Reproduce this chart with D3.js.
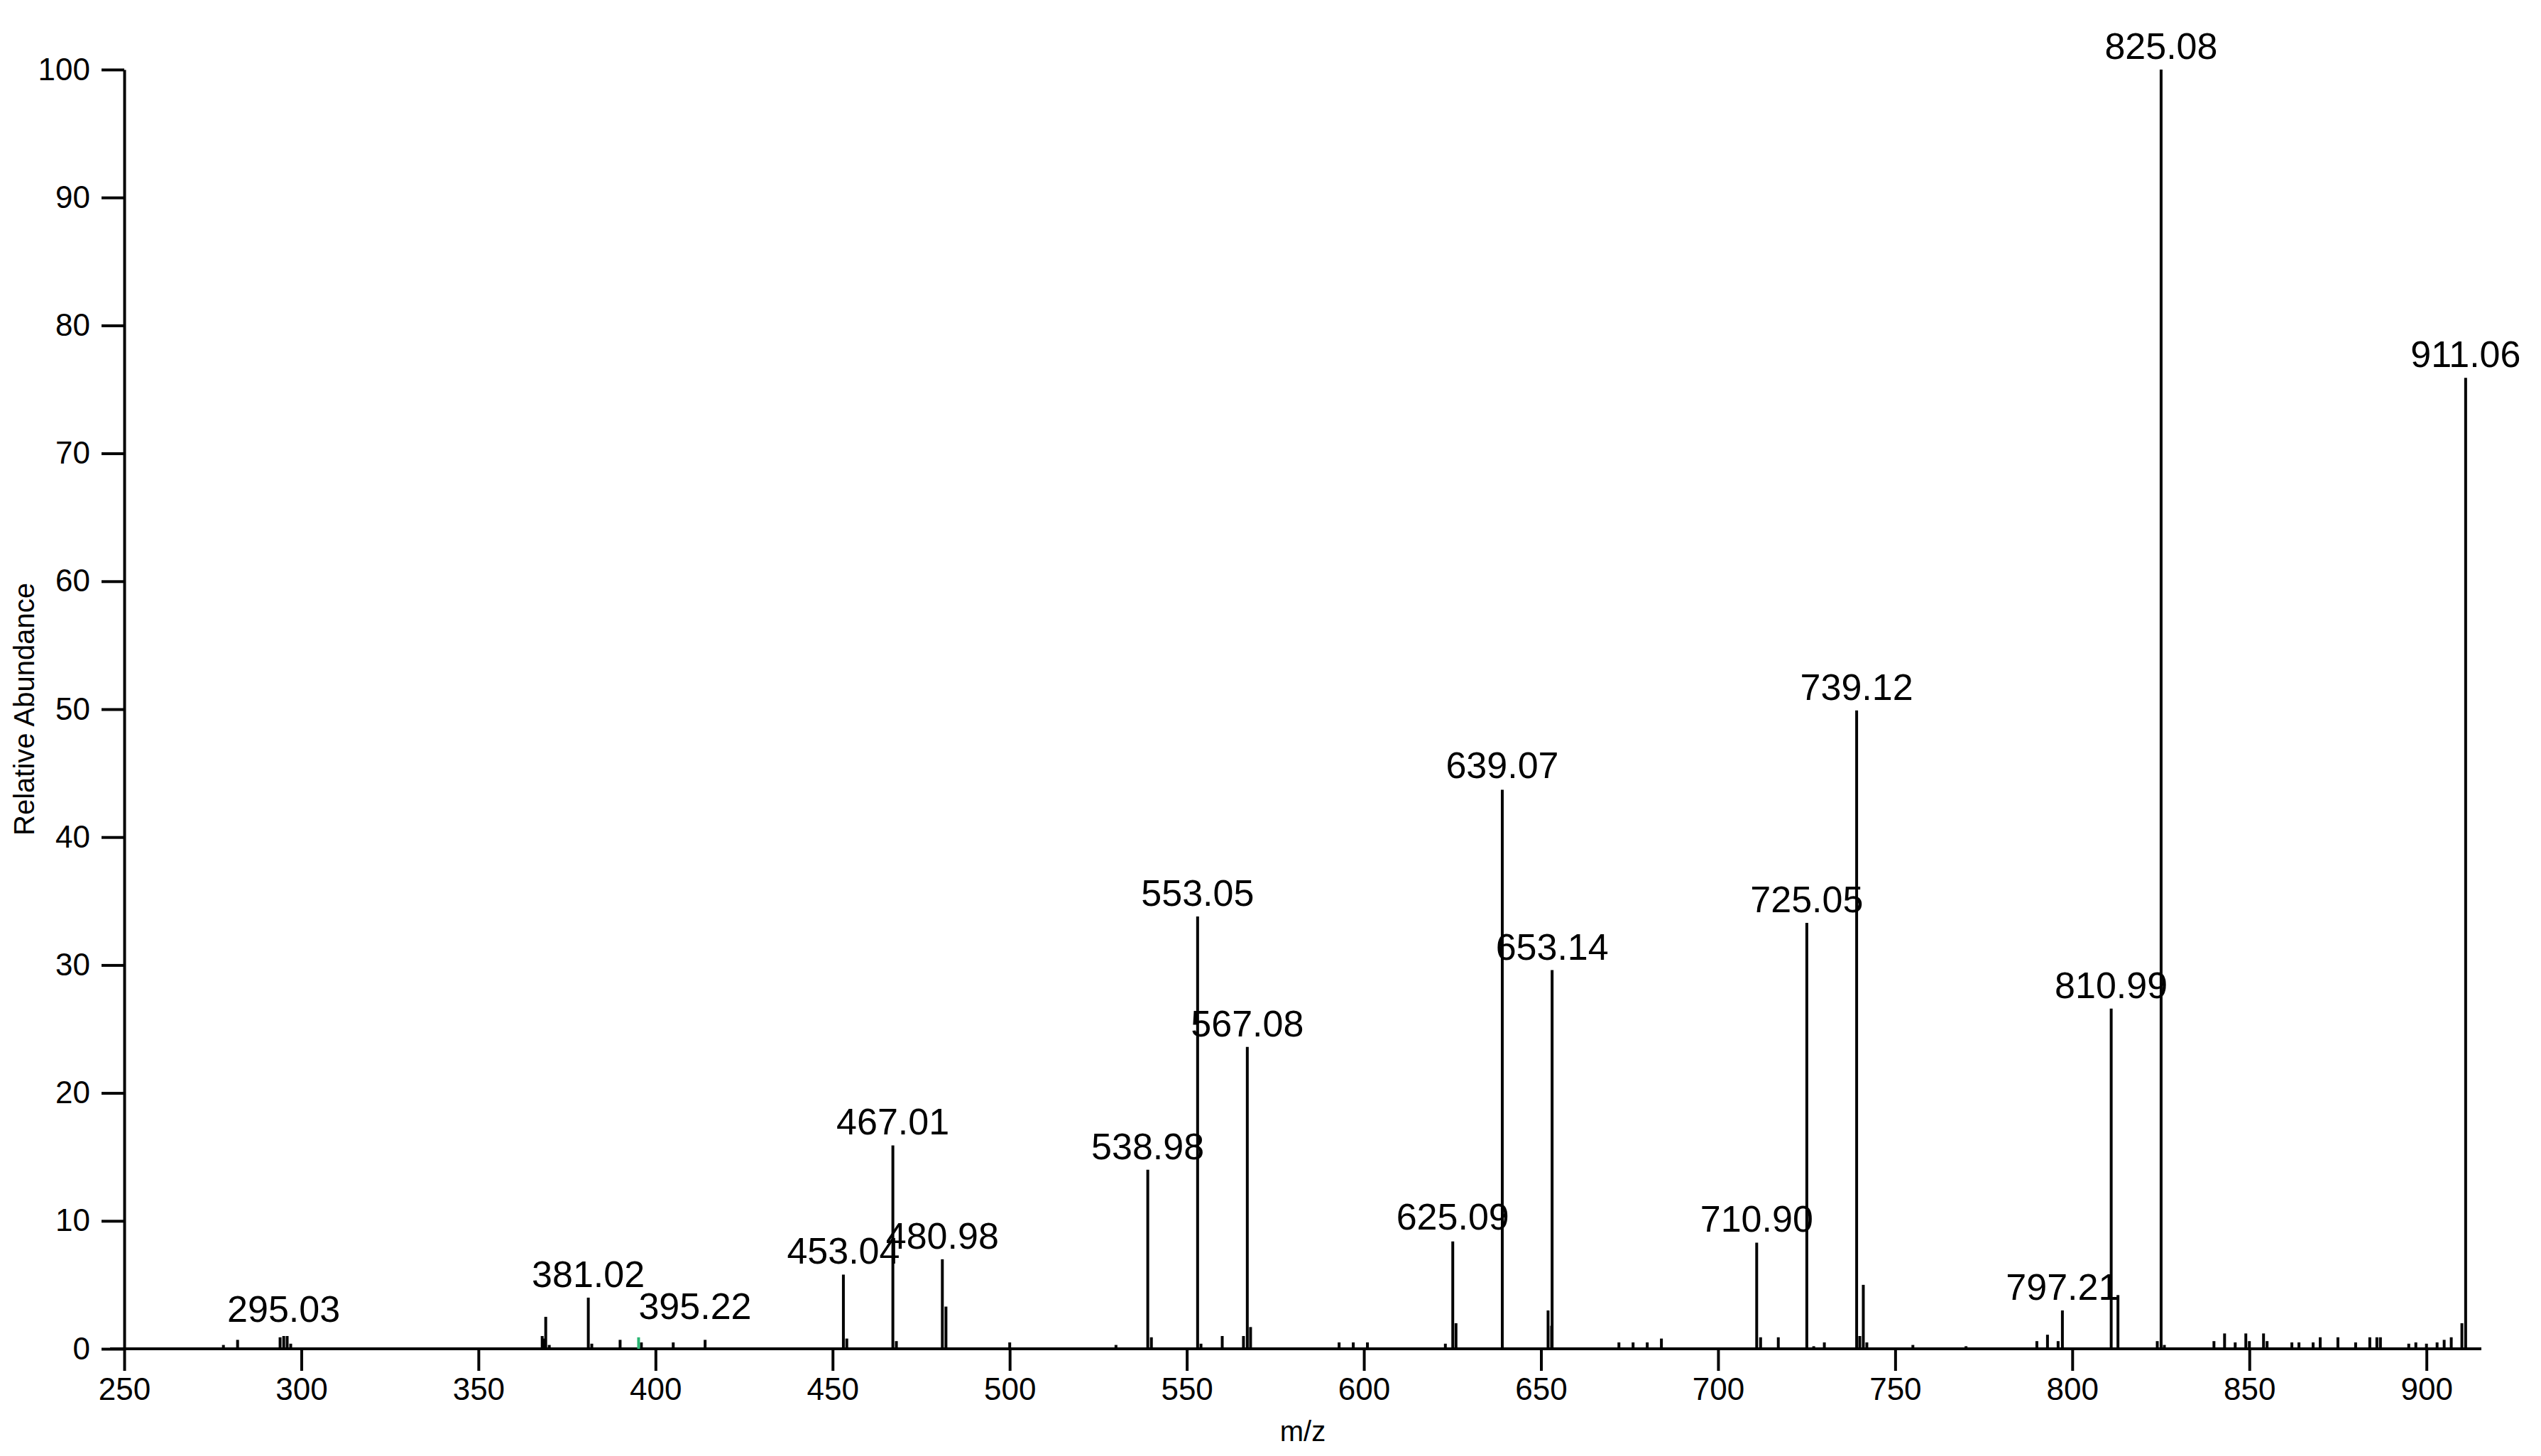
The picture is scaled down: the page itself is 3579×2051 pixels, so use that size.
<!DOCTYPE html>
<html>
<head>
<meta charset="utf-8">
<script src="https://cdn.jsdelivr.net/npm/d3@7"></script>
<style>
  body { margin: 0; background: #fff; }
  text { font-family: "Liberation Sans", Arial, sans-serif; }
</style>
</head>
<body>
<div id="chart"></div>
<script>
// labelled peaks
const peakMz = [295.03, 381.02, 395.22, 453.04, 467.01, 480.98, 538.98, 553.05, 567.08, 625.09,
                639.07, 653.14, 710.90, 725.05, 739.12, 797.21, 810.99, 825.08, 911.06];
const peakAbund = [1.0, 4.0, 0.9, 5.8, 15.9, 7.0, 14.0, 33.8, 23.6, 8.4,
                   43.7, 29.6, 8.3, 33.3, 49.9, 3.0, 26.6, 100, 75.9];
const peakLabelAbund = [1.8, 4.5, 2.0, 6.3, 16.4, 7.5, 14.5, 34.3, 24.1, 9.0,
                        44.3, 30.1, 8.8, 33.8, 50.4, 3.5, 27.1, 100.5, 76.4];

// unlabelled minor peaks
const minorMz = [278, 282, 294, 296, 297, 368, 368.5, 369, 370, 382, 390, 396, 405, 414, 454, 468,
                 482, 500, 530, 540, 554, 560, 566, 568, 593, 597, 601, 623, 626, 652, 653, 672,
                 676, 680, 684, 712, 717, 727, 730, 740, 741, 742, 755, 770, 790, 793, 796, 812.9,
                 824, 826, 840, 843, 846, 849, 850, 854, 855, 862, 864, 868, 870, 875, 880, 884,
                 886, 887, 895, 897, 900, 903, 905, 907, 910];
const minorAbund = [0.3, 0.7, 0.9, 1.0, 0.4, 1.0, 0.8, 2.5, 0.3, 0.4, 0.7, 0.5, 0.5, 0.7, 0.8, 0.6,
                    3.3, 0.5, 0.3, 0.9, 0.4, 1.0, 1.0, 1.7, 0.5, 0.5, 0.5, 0.4, 2.0, 3.0, 1.8, 0.5,
                    0.5, 0.5, 0.8, 0.9, 0.9, 0.2, 0.5, 1.0, 5.0, 0.5, 0.3, 0.2, 0.6, 1.1, 0.6, 4.2,
                    0.6, 0.3, 0.6, 1.2, 0.5, 1.2, 0.6, 1.2, 0.6, 0.5, 0.5, 0.5, 0.9, 0.9, 0.5, 0.9,
                    0.9, 0.9, 0.4, 0.5, 0.4, 0.5, 0.7, 0.9, 2.0];

const xMajor = [250, 300, 350, 400, 450, 500, 550, 600, 650, 700, 750, 800, 850, 900];
const yMajor = [0, 10, 20, 30, 40, 50, 60, 70, 80, 90, 100];

const W = 3579, H = 2051;
const x = d3.scaleLinear().domain([250, 915.5]).range([175, 3495]);
const y = d3.scaleLinear().domain([0, 100]).range([1900, 98]);

const svg = d3.select("#chart").append("svg").attr("width", W).attr("height", H);

// x axis
const xMinor = d3.range(250, 916, 10).filter(v => v % 50 !== 0);
const gx = svg.append("g").attr("transform", `translate(0,${y(0)})`);
gx.call(d3.axisBottom(x).tickValues(xMinor).tickSize(24).tickFormat(""));
gx.call(d3.axisBottom(x).tickValues(xMajor).tickSize(31).tickSizeOuter(0).tickPadding(10).tickFormat(d3.format("d")));
gx.selectAll("path, line").attr("stroke", "#000").attr("stroke-width", 4);
gx.select(".domain").attr("d", `M${x.range()[0] - 20},0H${x.range()[1]}`);
gx.selectAll("text").attr("font-size", 44).attr("fill", "#000");

// y axis
const gy = svg.append("g").attr("transform", `translate(${x.range()[0]},0)`);
gy.call(d3.axisLeft(y).tickValues(d3.range(0, 101, 1).filter(v => v % 5 !== 0)).tickSize(20).tickFormat(""));
gy.call(d3.axisLeft(y).tickValues(d3.range(5, 100, 10)).tickSize(26).tickFormat(""));
gy.call(d3.axisLeft(y).tickValues(yMajor).tickSize(32).tickSizeOuter(0).tickPadding(16).tickFormat(d3.format("d")));
gy.selectAll("path, line").attr("stroke", "#000").attr("stroke-width", 4);
gy.selectAll("text").attr("font-size", 44).attr("fill", "#000");

// minor peaks
svg.append("g").selectAll("line").data(minorMz).join("line")
  .attr("x1", d => x(d)).attr("x2", d => x(d))
  .attr("y1", y(0)).attr("y2", (d, i) => y(minorAbund[i]))
  .attr("stroke", "#000").attr("stroke-width", 4);

// labelled peaks
svg.append("g").selectAll("line").data(peakMz).join("line")
  .attr("x1", d => x(d)).attr("x2", d => x(d))
  .attr("y1", y(0)).attr("y2", (d, i) => y(peakAbund[i]))
  .attr("stroke", (d, i) => d === 395.22 ? "#2bb673" : "#000")
  .attr("stroke-width", 4);

svg.append("g").selectAll("text").data(peakMz).join("text")
  .attr("x", d => x(d)).attr("y", (d, i) => y(peakLabelAbund[i]) - 6)
  .attr("text-anchor", d => d === 395.22 ? "start" : "middle")
  .attr("font-size", 52).attr("fill", "#000")
  .text(d => d.toFixed(2));

// axis titles
svg.append("text").attr("x", (x.range()[0] + x.range()[1]) / 2).attr("y", 2030)
  .attr("text-anchor", "middle").attr("font-size", 40).text("m/z");
svg.append("text").attr("transform", `translate(48,${(y(0) + y(100)) / 2}) rotate(-90)`)
  .attr("text-anchor", "middle").attr("font-size", 40).text("Relative Abundance");
</script>
</body>
</html>
